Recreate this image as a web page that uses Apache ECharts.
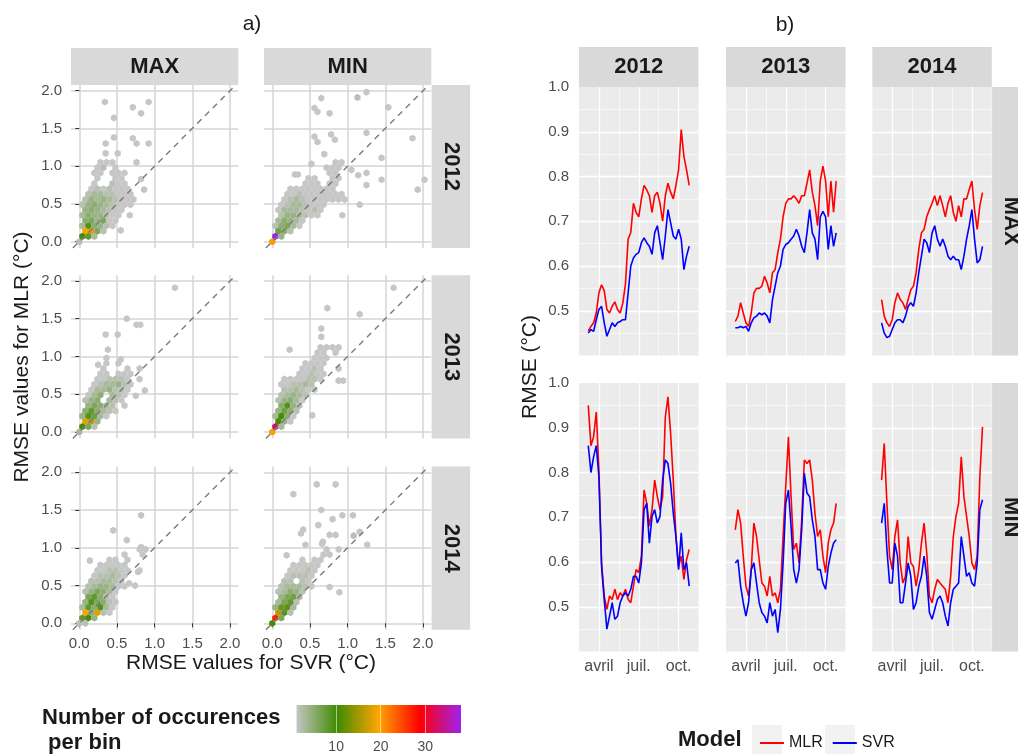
<!DOCTYPE html>
<html><head><meta charset="utf-8">
<script src="https://cdn.jsdelivr.net/npm/echarts@6/dist/echarts.min.js"></script>
<style>html,body{margin:0;padding:0;background:#fff}#c{width:1018px;height:754px}</style>
</head><body><div id="c"></div>
<script>
// ---------- DATA ----------
const leftVars = ['MAX', 'MIN'];
const years = ['2012', '2013', '2014'];
const leftTicks = [0, 0.5, 1, 1.5, 2];
const diagEnds = [-0.085, 2.075];
const countTicks = [10, 20, 30];
const countRange = [1, 38];
const monthTickNames = {3: 'avril', 6: 'juil.', 9: 'oct.'};

// hex bins: [RMSE SVR, RMSE MLR, count]
const hexMax2012 = [
 [0.34,1.85,1],[0.71,1.78,1],[0.82,1.70,1],[0.92,1.85,1],[0.46,1.64,1],[0.46,1.38,1],[0.71,1.37,1],[0.76,1.30,1],[0.92,1.30,1],[0.35,1.30,1],[0.35,1.17,1],[0.51,1.17,1],[0.82,0.83,1],[0.86,0.69,1],[0.67,0.35,1],[0.55,0.15,1],
 [0.28,1.05,1],[0.36,1.05,1],[0.44,1.05,1],[0.76,1.05,1],
 [0.24,0.98,1],[0.32,0.98,2],[0.48,0.98,1],
 [0.20,0.91,1],[0.28,0.91,1],[0.44,0.91,1],[0.52,0.91,1],[0.60,0.91,1],
 [0.24,0.84,1],[0.48,0.84,1],[0.56,0.84,1],
 [0.20,0.77,1],[0.44,0.77,2],[0.52,0.77,1],[0.60,0.77,1],
 [0.16,0.70,1],[0.24,0.70,2],[0.32,0.70,1],[0.40,0.70,2],[0.48,0.70,1],[0.56,0.70,1],[0.64,0.70,1],
 [0.12,0.63,2],[0.20,0.63,3],[0.28,0.63,3],[0.36,0.63,2],[0.44,0.63,2],[0.52,0.63,1],[0.60,0.63,1],[0.68,0.63,1],
 [0.08,0.56,2],[0.16,0.56,4],[0.24,0.56,3],[0.32,0.56,4],[0.40,0.56,3],[0.48,0.56,2],[0.56,0.56,1],[0.64,0.56,1],[0.72,0.56,1],
 [0.04,0.49,2],[0.12,0.49,4],[0.20,0.49,5],[0.28,0.49,4],[0.36,0.49,3],[0.44,0.49,2],[0.52,0.49,1],[0.60,0.49,1],[0.68,0.49,1],
 [0.08,0.42,4],[0.16,0.42,5],[0.24,0.42,4],[0.32,0.42,3],[0.40,0.42,2],[0.48,0.42,1],[0.56,0.42,1],
 [0.04,0.35,3],[0.12,0.35,5],[0.20,0.35,4],[0.28,0.35,4],[0.36,0.35,2],[0.44,0.35,1],[0.52,0.35,1],
 [0.08,0.28,5],[0.16,0.28,6],[0.24,0.28,4],[0.32,0.28,6],[0.40,0.28,1],[0.48,0.28,1],
 [0.04,0.21,3],[0.12,0.21,9],[0.20,0.21,5],[0.28,0.21,4],[0.36,0.21,2],[0.44,0.21,1],
 [0.08,0.14,19],[0.16,0.14,18],[0.24,0.14,6],[0.32,0.14,2],
 [0.04,0.07,10],[0.12,0.07,8],[0.20,0.07,3],
 [0.00,0.00,2]
];
const hexMin2012 = [
 [0.65,1.90,1],[1.13,1.91,2],[1.25,1.98,1],[0.56,1.77,1],[0.60,1.72,1],[0.76,1.70,1],[1.54,1.78,1],[0.56,1.39,1],[0.60,1.32,1],[0.78,1.42,1],[0.83,1.35,1],[0.69,1.16,1],[1.25,1.44,1],[1.86,1.37,1],[1.45,1.11,1],[0.52,1.03,1],[0.30,0.89,1],[0.34,0.89,1],[1.05,0.95,1],[1.14,0.88,1],[1.25,0.91,1],[1.25,0.75,1],[1.45,0.82,1],[1.93,0.69,1],[2.02,0.82,1],[1.16,0.49,1],[0.93,0.35,1],
 [0.84,1.05,1],[0.92,1.05,1],
 [0.72,0.98,1],[0.80,0.98,1],[0.88,0.98,1],
 [0.76,0.91,1],[0.84,0.91,1],
 [0.48,0.84,1],[0.56,0.84,1],[0.80,0.84,1],[0.88,0.84,1],
 [0.44,0.77,1],[0.52,0.77,1],[0.60,0.77,1],[0.76,0.77,1],[0.84,0.77,1],
 [0.24,0.70,1],[0.32,0.70,1],[0.40,0.70,1],[0.48,0.70,1],[0.56,0.70,1],[0.64,0.70,1],[0.72,0.70,1],[0.80,0.70,1],
 [0.20,0.63,1],[0.28,0.63,1],[0.36,0.63,2],[0.44,0.63,1],[0.52,0.63,1],[0.60,0.63,1],[0.68,0.63,1],[0.76,0.63,1],[0.84,0.63,1],[0.92,0.63,1],
 [0.16,0.56,1],[0.24,0.56,2],[0.32,0.56,3],[0.40,0.56,2],[0.48,0.56,1],[0.56,0.56,1],[0.64,0.56,1],[0.72,0.56,1],[0.80,0.56,1],[0.88,0.56,1],[0.96,0.56,1],
 [0.12,0.49,1],[0.20,0.49,2],[0.28,0.49,3],[0.36,0.49,3],[0.44,0.49,2],[0.52,0.49,1],[0.60,0.49,1],[0.68,0.49,1],
 [0.08,0.42,1],[0.16,0.42,3],[0.24,0.42,3],[0.32,0.42,3],[0.40,0.42,2],[0.48,0.42,1],[0.56,0.42,2],[0.64,0.42,1],
 [0.12,0.35,2],[0.20,0.35,4],[0.28,0.35,4],[0.36,0.35,3],[0.44,0.35,2],[0.52,0.35,1],[0.60,0.35,1],
 [0.08,0.28,3],[0.16,0.28,5],[0.24,0.28,4],[0.32,0.28,3],[0.40,0.28,1],
 [0.04,0.21,2],[0.12,0.21,5],[0.20,0.21,6],[0.28,0.21,3],[0.36,0.21,1],
 [0.08,0.14,7],[0.16,0.14,5],[0.24,0.14,2],
 [0.04,0.07,38],[0.12,0.07,4],
 [0.00,0.00,20]
];
const hexMax2013 = [
 [1.27,1.91,1],[0.63,1.50,1],[0.76,1.42,1],[0.81,1.42,1],[0.35,1.29,1],[0.51,1.29,1],[0.38,1.09,1],[0.55,0.96,1],[0.25,0.89,1],[0.87,0.55,1],[0.75,0.48,1],
 [0.36,0.98,1],
 [0.36,0.91,1],[0.52,0.91,1],
 [0.32,0.84,1],[0.64,0.84,1],[0.80,0.84,1],
 [0.28,0.77,1],[0.36,0.77,1],[0.52,0.77,1],[0.60,0.77,1],[0.68,0.77,1],
 [0.24,0.70,1],[0.32,0.70,1],[0.40,0.70,2],[0.48,0.70,2],[0.56,0.70,2],[0.64,0.70,1],[0.80,0.70,1],
 [0.20,0.63,1],[0.28,0.63,2],[0.36,0.63,3],[0.44,0.63,3],[0.52,0.63,4],[0.60,0.63,2],[0.68,0.63,1],
 [0.16,0.56,1],[0.24,0.56,3],[0.32,0.56,3],[0.40,0.56,4],[0.48,0.56,2],[0.56,0.56,2],[0.64,0.56,1],
 [0.12,0.49,1],[0.20,0.49,3],[0.28,0.49,5],[0.44,0.49,3],[0.52,0.49,2],[0.60,0.49,1],
 [0.08,0.42,2],[0.16,0.42,4],[0.24,0.42,5],[0.40,0.42,3],[0.48,0.42,2],[0.56,0.42,1],
 [0.12,0.35,4],[0.20,0.35,6],[0.28,0.35,5],[0.36,0.35,3],[0.44,0.35,2],[0.60,0.35,1],
 [0.08,0.28,5],[0.16,0.28,8],[0.24,0.28,5],[0.32,0.28,3],[0.40,0.28,2],[0.48,0.28,1],
 [0.04,0.21,4],[0.12,0.21,9],[0.20,0.21,7],[0.28,0.21,3],[0.36,0.21,1],
 [0.08,0.14,18],[0.16,0.14,16],[0.24,0.14,4],
 [0.04,0.07,10],[0.12,0.07,6],[0.20,0.07,2],
 [0.00,0.00,3]
];
const hexMin2013 = [
 [1.61,1.91,1],[0.73,1.64,1],[1.16,1.56,1],[0.65,1.37,1],[0.23,1.09,1],[0.88,0.68,1],[0.94,0.68,1],[0.53,0.22,1],[0.65,1.26,1],
 [0.64,1.12,1],[0.72,1.12,1],[0.80,1.12,1],[0.88,1.12,1],
 [0.60,1.05,1],[0.68,1.05,1],[0.84,1.05,1],
 [0.56,0.98,1],[0.64,0.98,1],[0.72,0.98,1],
 [0.44,0.91,1],[0.52,0.91,1],[0.60,0.91,1],[0.68,0.91,1],
 [0.40,0.84,1],[0.48,0.84,1],[0.56,0.84,2],[0.64,0.84,1],[0.88,0.84,1],
 [0.36,0.77,1],[0.44,0.77,1],[0.52,0.77,2],[0.60,0.77,1],[0.68,0.77,1],
 [0.16,0.70,1],[0.24,0.70,1],[0.32,0.70,1],[0.40,0.70,1],[0.48,0.70,2],[0.56,0.70,2],[0.64,0.70,1],
 [0.12,0.63,1],[0.20,0.63,1],[0.28,0.63,2],[0.36,0.63,2],[0.44,0.63,3],[0.52,0.63,2],
 [0.16,0.56,2],[0.24,0.56,2],[0.32,0.56,3],[0.40,0.56,2],[0.48,0.56,1],[0.56,0.56,1],
 [0.12,0.49,2],[0.20,0.49,3],[0.28,0.49,4],[0.36,0.49,3],[0.44,0.49,2],
 [0.08,0.42,2],[0.16,0.42,4],[0.24,0.42,5],[0.32,0.42,3],[0.40,0.42,1],
 [0.12,0.35,5],[0.20,0.35,9],[0.28,0.35,4],[0.36,0.35,2],
 [0.08,0.28,4],[0.16,0.28,7],[0.24,0.28,5],[0.32,0.28,2],
 [0.04,0.21,3],[0.12,0.21,10],[0.20,0.21,5],[0.28,0.21,1],
 [0.08,0.14,10],[0.16,0.14,4],[0.24,0.14,1],
 [0.04,0.07,33],[0.12,0.07,3],
 [0.00,0.00,20]
];
const hexMax2014 = [
 [0.82,1.43,1],[0.45,1.23,1],[0.63,1.10,1],[0.82,1.01,1],[0.78,0.68,1],[0.14,0.83,1],[0.66,0.53,1],[0.74,0.50,1],
 [0.80,0.98,1],[0.88,0.98,1],
 [0.60,0.91,1],[0.84,0.91,1],
 [0.40,0.84,1],[0.48,0.84,1],[0.64,0.84,1],
 [0.28,0.77,1],[0.36,0.77,1],[0.44,0.77,1],[0.52,0.77,1],[0.60,0.77,1],
 [0.24,0.70,1],[0.32,0.70,1],[0.40,0.70,2],[0.48,0.70,2],[0.56,0.70,1],[0.64,0.70,1],[0.80,0.70,1],
 [0.20,0.63,1],[0.28,0.63,2],[0.36,0.63,2],[0.44,0.63,3],[0.52,0.63,2],[0.60,0.63,1],
 [0.16,0.56,2],[0.24,0.56,2],[0.32,0.56,3],[0.40,0.56,3],[0.48,0.56,2],[0.56,0.56,1],
 [0.12,0.49,2],[0.20,0.49,3],[0.28,0.49,4],[0.36,0.49,4],[0.44,0.49,3],[0.52,0.49,1],[0.60,0.49,1],
 [0.08,0.42,2],[0.16,0.42,4],[0.24,0.42,6],[0.32,0.42,5],[0.40,0.42,3],[0.48,0.42,1],
 [0.12,0.35,6],[0.20,0.35,8],[0.28,0.35,5],[0.36,0.35,2],[0.44,0.35,1],
 [0.08,0.28,4],[0.16,0.28,9],[0.24,0.28,6],[0.32,0.28,5],[0.40,0.28,2],[0.48,0.28,1],
 [0.04,0.21,3],[0.12,0.21,8],[0.20,0.21,5],[0.28,0.21,9],[0.36,0.21,3],[0.44,0.21,1],
 [0.08,0.14,19],[0.16,0.14,5],[0.24,0.14,18],[0.32,0.14,2],[0.40,0.14,1],
 [0.04,0.07,8],[0.12,0.07,10],[0.20,0.07,4],
 [0.00,0.00,2],[0.08,0.00,2]
];
const hexMin2014 = [
 [0.59,1.84,1],[0.84,1.84,1],[0.28,1.71,1],[0.65,1.50,1],[0.93,1.43,1],[1.07,1.43,1],[0.80,1.38,1],[0.61,1.30,1],[0.41,1.24,1],[0.38,1.19,1],[0.76,1.17,1],[0.84,1.17,1],[1.08,1.16,2],[1.16,1.21,1],[0.44,1.04,1],[0.66,1.05,1],[1.26,1.04,1],[0.19,0.90,1],[0.89,0.41,1],[0.76,0.48,1],[0.67,1.08,1],
 [0.72,0.98,1],[0.88,0.98,1],
 [0.68,0.91,1],[0.76,0.91,1],
 [0.40,0.84,1],[0.56,0.84,1],[0.64,0.84,1],
 [0.28,0.77,1],[0.36,0.77,1],[0.44,0.77,1],[0.52,0.77,1],[0.60,0.77,1],
 [0.24,0.70,1],[0.32,0.70,1],[0.40,0.70,1],[0.48,0.70,2],[0.56,0.70,1],
 [0.20,0.63,1],[0.28,0.63,2],[0.36,0.63,2],[0.44,0.63,2],[0.52,0.63,1],
 [0.16,0.56,2],[0.24,0.56,2],[0.40,0.56,2],[0.48,0.56,1],
 [0.12,0.49,2],[0.20,0.49,3],[0.28,0.49,3],[0.36,0.49,3],[0.44,0.49,2],[0.52,0.49,1],
 [0.08,0.42,2],[0.16,0.42,3],[0.24,0.42,5],[0.32,0.42,4],[0.40,0.42,2],
 [0.12,0.35,4],[0.20,0.35,6],[0.28,0.35,7],[0.36,0.35,3],
 [0.08,0.28,3],[0.16,0.28,6],[0.24,0.28,8],[0.32,0.28,2],
 [0.04,0.21,4],[0.12,0.21,8],[0.20,0.21,12],[0.28,0.21,3],
 [0.08,0.14,16],[0.16,0.14,9],[0.24,0.14,2],
 [0.04,0.07,27],[0.12,0.07,6],
 [0.00,0.00,10]
];

// time axis in month units (Jan 1 = 0)
const months = [2.2,2.4,2.6,2.8,3.0,3.2,3.4,3.6,3.8,4.0,4.2,4.4,4.6,4.8,5.0,5.2,5.4,5.6,5.8,6.0,6.2,6.4,6.6,6.8,7.0,7.2,7.4,7.6,7.8,8.0,8.2,8.4,8.6,8.8,9.0,9.2,9.4,9.6,9.8];
const mlrMax2012 = [0.455,0.465,0.473,0.495,0.54,0.558,0.545,0.503,0.495,0.51,0.52,0.503,0.495,0.517,0.56,0.66,0.675,0.74,0.72,0.71,0.75,0.78,0.77,0.757,0.72,0.757,0.765,0.74,0.70,0.757,0.785,0.765,0.75,0.78,0.815,0.905,0.845,0.815,0.78];
const svrMax2012 = [0.45,0.458,0.454,0.48,0.503,0.51,0.473,0.443,0.458,0.473,0.465,0.473,0.476,0.48,0.48,0.54,0.6,0.618,0.626,0.63,0.652,0.663,0.652,0.644,0.626,0.674,0.69,0.652,0.614,0.667,0.726,0.697,0.667,0.66,0.682,0.66,0.592,0.622,0.644];
const mlrMax2013 = [0.476,0.488,0.518,0.495,0.473,0.465,0.495,0.54,0.55,0.55,0.555,0.577,0.562,0.54,0.585,0.592,0.63,0.66,0.71,0.74,0.75,0.75,0.757,0.75,0.74,0.757,0.757,0.785,0.815,0.765,0.735,0.69,0.79,0.823,0.79,0.71,0.79,0.72,0.79];
const svrMax2013 = [0.462,0.462,0.465,0.462,0.465,0.454,0.473,0.484,0.488,0.495,0.491,0.495,0.488,0.473,0.525,0.555,0.585,0.6,0.637,0.648,0.652,0.66,0.667,0.682,0.667,0.644,0.63,0.674,0.726,0.674,0.66,0.614,0.71,0.722,0.71,0.637,0.69,0.644,0.674];
const mlrMax2014 = [0.525,0.488,0.473,0.465,0.48,0.518,0.54,0.525,0.518,0.503,0.525,0.547,0.555,0.585,0.637,0.674,0.682,0.71,0.726,0.74,0.757,0.735,0.757,0.735,0.71,0.74,0.757,0.72,0.70,0.735,0.71,0.75,0.75,0.771,0.79,0.726,0.682,0.735,0.764];
const svrMax2014 = [0.473,0.45,0.44,0.443,0.458,0.473,0.48,0.48,0.473,0.488,0.51,0.518,0.51,0.54,0.585,0.622,0.66,0.652,0.63,0.674,0.69,0.66,0.644,0.66,0.644,0.622,0.614,0.622,0.614,0.614,0.592,0.622,0.66,0.69,0.726,0.66,0.607,0.614,0.644];
const mlrMin2012 = [0.95,0.86,0.88,0.935,0.806,0.598,0.524,0.494,0.524,0.516,0.539,0.516,0.531,0.524,0.539,0.516,0.509,0.546,0.583,0.576,0.613,0.761,0.731,0.68,0.717,0.783,0.746,0.717,0.746,0.924,0.969,0.887,0.783,0.657,0.59,0.613,0.561,0.605,0.628];
const svrMin2012 = [0.86,0.80,0.835,0.86,0.79,0.59,0.516,0.45,0.479,0.509,0.472,0.479,0.509,0.524,0.531,0.524,0.539,0.568,0.568,0.553,0.598,0.717,0.731,0.642,0.702,0.717,0.687,0.702,0.783,0.828,0.82,0.776,0.709,0.657,0.583,0.665,0.583,0.598,0.546];
const mlrMin2013 = [0.672,0.717,0.687,0.613,0.546,0.524,0.583,0.687,0.657,0.605,0.553,0.546,0.524,0.568,0.524,0.531,0.509,0.539,0.657,0.769,0.88,0.746,0.628,0.642,0.598,0.694,0.828,0.82,0.828,0.783,0.709,0.657,0.672,0.613,0.576,0.642,0.672,0.687,0.731];
const svrMin2013 = [0.598,0.605,0.546,0.509,0.479,0.509,0.583,0.598,0.553,0.509,0.487,0.479,0.464,0.509,0.479,0.494,0.442,0.494,0.598,0.731,0.761,0.68,0.583,0.553,0.583,0.672,0.798,0.754,0.746,0.694,0.657,0.583,0.583,0.553,0.539,0.59,0.62,0.642,0.65];
const mlrMin2014 = [0.783,0.865,0.731,0.613,0.583,0.657,0.694,0.598,0.553,0.568,0.657,0.598,0.59,0.546,0.583,0.642,0.687,0.62,0.524,0.509,0.539,0.561,0.553,0.546,0.539,0.509,0.568,0.657,0.702,0.731,0.835,0.746,0.702,0.657,0.598,0.583,0.613,0.791,0.902];
const svrMin2014 = [0.687,0.731,0.628,0.553,0.553,0.642,0.613,0.509,0.509,0.553,0.598,0.568,0.494,0.509,0.546,0.568,0.613,0.568,0.487,0.472,0.494,0.516,0.524,0.509,0.479,0.457,0.509,0.539,0.546,0.553,0.657,0.613,0.568,0.576,0.553,0.546,0.598,0.717,0.739];

// ---------- LAYOUT / STYLE ----------
const FONT = "'Liberation Sans', Arial, sans-serif";
const hexPath = 'path://M0,-1L0.866,-0.5L0.866,0.5L0,1L-0.866,0.5L-0.866,-0.5Z';
const LC = [71, 264], LR = [85, 275.3, 466.6], LW = 167.3, LH = 163.1;
const RC = [579, 726, 872.3], RR = [87, 383], RW = 119.5, RH = 268.5;
const heatColors = ['#c6c6c6', '#3f8b00', '#ffa500', '#ff0000', '#a020f0'];

const hexSets = [[hexMax2012, hexMin2012], [hexMax2013, hexMin2013], [hexMax2014, hexMin2014]];
const lineSets = [
  [[mlrMax2012, svrMax2012], [mlrMax2013, svrMax2013], [mlrMax2014, svrMax2014]],
  [[mlrMin2012, svrMin2012], [mlrMin2013, svrMin2013], [mlrMin2014, svrMin2014]]
];

const grids = [], xAxes = [], yAxes = [], series = [];
let gi = 0;
// left hexbin facets
for (let r = 0; r < 3; r++) {
  for (let c = 0; c < 2; c++) {
    grids.push({left: LC[c], top: LR[r], width: LW, height: LH, containLabel: false});
    xAxes.push({gridIndex: gi, type: 'value', min: -0.11, max: 2.11,
      axisLine: {show: false},
      axisTick: {show: r === 2, length: 4, customValues: leftTicks, lineStyle: {color: '#333', width: 1}},
      axisLabel: {show: r === 2, customValues: leftTicks, formatter: v => v.toFixed(1), color: '#4d4d4d', fontSize: 15, margin: 7, fontFamily: FONT},
      splitLine: {show: true, customValues: leftTicks, lineStyle: {color: '#d4d4d4', width: 1.5}}
    });
    yAxes.push({gridIndex: gi, type: 'value', min: -0.085, max: 2.075,
      axisLine: {show: false},
      axisTick: {show: c === 0, length: 4, customValues: leftTicks, lineStyle: {color: '#333', width: 1}},
      axisLabel: {show: c === 0, customValues: leftTicks, formatter: v => v.toFixed(1), color: '#4d4d4d', fontSize: 15, margin: 9, fontFamily: FONT},
      splitLine: {show: true, customValues: leftTicks, lineStyle: {color: '#d4d4d4', width: 1.5}}
    });
    series.push({type: 'scatter', xAxisIndex: gi, yAxisIndex: gi, data: hexSets[r][c],
      symbol: hexPath, symbolSize: [6.2, 7.2], itemStyle: {opacity: 1}, z: 2, silent: true});
    series.push({type: 'line', xAxisIndex: gi, yAxisIndex: gi, data: [[diagEnds[0], diagEnds[0]], [diagEnds[1], diagEnds[1]]],
      symbol: 'none', lineStyle: {color: '#7a7a7a', width: 1.4, type: [6, 5]}, z: 3, silent: true});
    gi++;
  }
}
// right line facets
for (let r = 0; r < 2; r++) {
  for (let c = 0; c < 3; c++) {
    grids.push({left: RC[c], top: RR[r], width: RW, height: RH, show: true, backgroundColor: '#ebebeb', borderWidth: 0});
    xAxes.push({gridIndex: gi, type: 'value', min: 1.5, max: 10.5, minInterval: 3, maxInterval: 3,
      axisLine: {show: false}, axisTick: {show: false},
      axisLabel: {show: r === 1, showMinLabel: false, showMaxLabel: false, formatter: v => monthTickNames[Math.round(v)] && Math.abs(v - Math.round(v)) < 1e-6 ? monthTickNames[Math.round(v)] : '',
        color: '#4d4d4d', fontSize: 16, margin: 7, fontFamily: FONT},
      splitLine: {show: true, showMinLine: false, showMaxLine: false, lineStyle: {color: '#ffffff', width: 1.3}},
      minorTick: {show: false, splitNumber: 2},
      minorSplitLine: {show: true, lineStyle: {color: '#ffffff', width: 0.6}}
    });
    yAxes.push({gridIndex: gi, type: 'value', min: 0.4, max: 1.0, interval: 0.1,
      axisLine: {show: false}, axisTick: {show: false},
      axisLabel: {show: c === 0, formatter: v => v < 0.45 ? '' : v.toFixed(1), color: '#4d4d4d', fontSize: 15, margin: 10, fontFamily: FONT},
      splitLine: {show: true, showMinLine: false, showMaxLine: false, lineStyle: {color: '#ffffff', width: 1.3}},
      minorTick: {show: false, splitNumber: 2},
      minorSplitLine: {show: true, lineStyle: {color: '#ffffff', width: 0.6}}
    });
    const pair = lineSets[r][c];
    series.push({type: 'line', name: 'MLR', xAxisIndex: gi, yAxisIndex: gi, data: months.map((m, i) => [m, pair[0][i]]),
      symbol: 'none', lineStyle: {color: '#ff0000', width: 1.6}, itemStyle: {color: '#ff0000'}, z: 3, silent: true});
    series.push({type: 'line', name: 'SVR', xAxisIndex: gi, yAxisIndex: gi, data: months.map((m, i) => [m, pair[1][i]]),
      symbol: 'none', lineStyle: {color: '#0000ff', width: 1.6}, itemStyle: {color: '#0000ff'}, z: 4, silent: true});
    gi++;
  }
}
// colour bar legend (grid)
const cbIndex = gi;
grids.push({left: 296, top: 705, width: 165, height: 31, show: true, borderWidth: 0,
  backgroundColor: {type: 'linear', x: 0, y: 0, x2: 1, y2: 0,
    colorStops: heatColors.map((col, i) => ({offset: i / (heatColors.length - 1), color: col}))}});
xAxes.push({gridIndex: cbIndex, type: 'value', min: countRange[0], max: countRange[1],
  axisLine: {show: false}, axisTick: {show: false},
  axisLabel: {show: true, customValues: countTicks, color: '#4d4d4d', fontSize: 14, margin: 7, fontFamily: FONT},
  splitLine: {show: true, customValues: countTicks, lineStyle: {color: 'rgba(255,255,255,0.55)', width: 1}}});
yAxes.push({gridIndex: cbIndex, type: 'value', min: 0, max: 1, show: false, splitLine: {show: false}});

// ---------- GRAPHICS (strips, titles) ----------
const g = [];
const stripStyle = {fill: '#d9d9d9'};
const stripText = (x, y, text, rot) => ({type: 'text', x, y, rotation: rot || 0, z: 20,
  style: {text, fill: '#1a1a1a', font: "bold 22px " + FONT, align: 'center', verticalAlign: 'middle'}});
for (let c = 0; c < 2; c++) {
  g.push({type: 'rect', shape: {x: LC[c], y: 48, width: LW, height: 37}, style: stripStyle, z: 19});
  g.push(stripText(LC[c] + LW / 2, 67, leftVars[c]));
}
for (let r = 0; r < 3; r++) {
  g.push({type: 'rect', shape: {x: LC[1] + LW + 0.3, y: LR[r], width: 38.5, height: LH}, style: stripStyle, z: 19});
  g.push(stripText(LC[1] + LW + 19.5, LR[r] + LH / 2, years[r], -Math.PI / 2));
}
for (let c = 0; c < 3; c++) {
  g.push({type: 'rect', shape: {x: RC[c], y: 47, width: RW, height: RR[0] - 47}, style: stripStyle, z: 19});
  g.push(stripText(RC[c] + RW / 2, 67, years[c]));
}
for (let r = 0; r < 2; r++) {
  g.push({type: 'rect', shape: {x: RC[2] + RW + 0.3, y: RR[r], width: 40, height: RH}, style: stripStyle, z: 19});
  g.push(stripText(RC[2] + RW + 19.5, RR[r] + RH / 2, leftVars[r], -Math.PI / 2));
}
const txt = (x, y, text, size, opts) => Object.assign({type: 'text', x, y, z: 20,
  style: Object.assign({text, fill: '#1a1a1a', font: size + 'px ' + FONT, align: 'center', verticalAlign: 'middle'}, (opts && opts.style) || {})},
  opts && opts.rotation ? {rotation: opts.rotation} : {});
g.push(txt(252, 24, 'a)', 21));
g.push(txt(785, 25, 'b)', 21));
g.push(txt(22, 357, 'RMSE values for MLR (°C)', 21, {rotation: Math.PI / 2}));
g.push(txt(251, 663, 'RMSE values for SVR (°C)', 21));
g.push(txt(530, 367, 'RMSE (°C)', 21, {rotation: Math.PI / 2}));
g.push(txt(42, 718, 'Number of occurences', 22, {style: {font: 'bold 22px ' + FONT, align: 'left'}}));
g.push(txt(42, 743, ' per bin', 22, {style: {font: 'bold 22px ' + FONT, align: 'left'}}));
g.push(txt(678, 740, 'Model', 22, {style: {font: 'bold 22px ' + FONT, align: 'left'}}));
g.push({type: 'rect', shape: {x: 752, y: 725, width: 30, height: 32}, style: {fill: '#f2f2f2'}, z: 1});
g.push({type: 'rect', shape: {x: 825, y: 725, width: 30, height: 32}, style: {fill: '#f2f2f2'}, z: 1});

const chart = echarts.init(document.getElementById('c'), null, {renderer: 'canvas'});
chart.setOption({
  animation: false,
  backgroundColor: '#ffffff',
  grid: grids,
  xAxis: xAxes,
  yAxis: yAxes,
  visualMap: {type: 'continuous', show: false, min: countRange[0], max: countRange[1], dimension: 2,
    seriesIndex: [0, 2, 4, 6, 8, 10], inRange: {color: heatColors}},
  legend: {data: ['MLR', 'SVR'], left: 755, top: 730, itemWidth: 24, itemHeight: 2, icon: 'rect', itemGap: 10,
    selectedMode: false, textStyle: {fontSize: 16, color: '#1a1a1a', fontFamily: FONT}},
  graphic: g,
  series: series
});
</script></body></html>
